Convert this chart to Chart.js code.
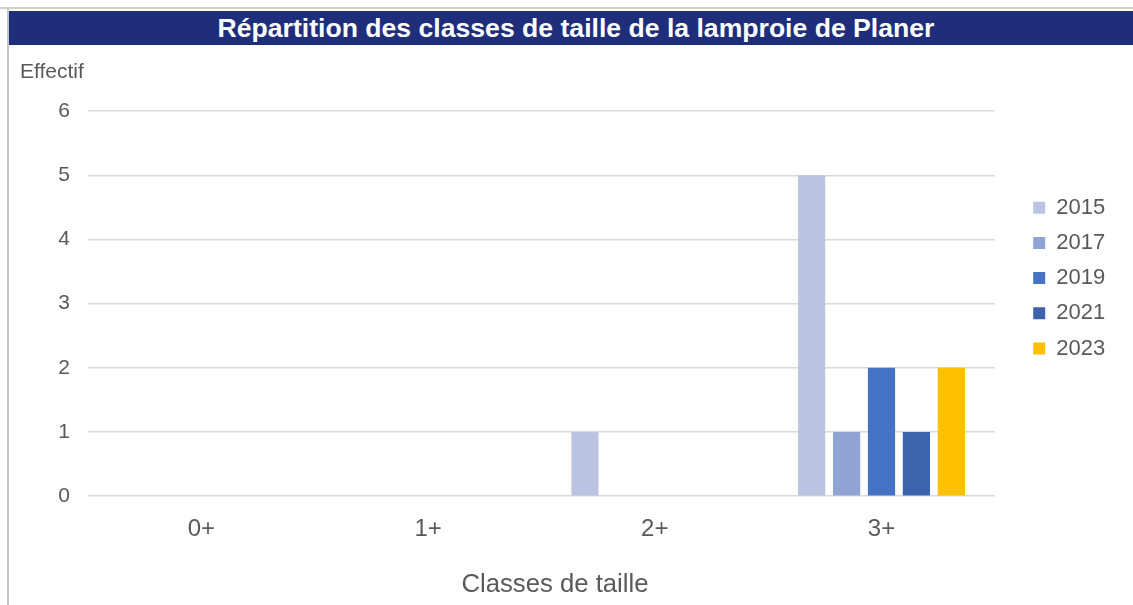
<!DOCTYPE html>
<html>
<head>
<meta charset="utf-8">
<script src="https://cdn.jsdelivr.net/npm/chart.js@4"></script>
<style>
  body { margin: 0; background: #fff; font-family: "Liberation Sans", Arial, sans-serif; }
  #topline { position: absolute; left: 0; top: 7px; width: 1133px; height: 2px; background: #d0d0d0; }
  #leftline { position: absolute; left: 7px; top: 7px; width: 2px; height: 598px; background: #c6c6c6; }
  #titlebar {
    position: absolute; left: 9px; top: 11px; width: 1114px; height: 34px; padding-left: 10px;
    background: #1f2e7a; color: #fff; text-align: center;
    font: bold 26.6px "Liberation Sans", Arial, sans-serif; line-height: 34px;
  }
  #wrap { position: absolute; left: 9px; top: 47px; width: 1124px; height: 558px; }
</style>
</head>
<body>
<div id="topline"></div>
<div id="leftline"></div>
<div id="titlebar">Répartition des classes de taille de la lamproie de Planer</div>
<div id="wrap"><canvas id="sizeChart"></canvas></div>
<script>
const categories = ["0+", "1+", "2+", "3+"];
const years = ["2015", "2017", "2019", "2021", "2023"];
const counts2015 = [0, 0, 1, 5];
const counts2017 = [0, 0, 0, 1];
const counts2019 = [0, 0, 0, 2];
const counts2021 = [0, 0, 0, 1];
const counts2023 = [0, 0, 0, 2];
const yTicks = [0, 1, 2, 3, 4, 5, 6];

const seriesValues = [counts2015, counts2017, counts2019, counts2021, counts2023];
const seriesColors = ["#b9c3e2", "#8fa3d4", "#4472c4", "#3b64ad", "#ffc000"];

// move the legend down next to the bars, like the excel layout
const legendPlacer = {
  id: "legendPlacer",
  afterLayout(chart) {
    const lg = chart.legend;
    const w = lg.right - lg.left;
    const h = lg.bottom - lg.top;
    lg.left = 1011;
    lg.right = lg.left + w;
    lg.top = 136.5;
    lg.bottom = lg.top + h;
  },
};

document.addEventListener("DOMContentLoaded", function () {
  const canvas = document.getElementById("sizeChart");
  canvas.width = 1124;
  canvas.height = 558;

  new Chart(canvas, {
    type: "bar",
    data: {
      labels: categories,
      datasets: years.map((year, i) => ({
        label: year,
        data: seriesValues[i],
        backgroundColor: seriesColors[i],
        borderWidth: 0,
        categoryPercentage: 0.77,
        barPercentage: 0.78,
      })),
    },
    plugins: [legendPlacer],
    options: {
      responsive: false,
      animation: false,
      layout: { padding: { left: 11, right: 43, top: 0, bottom: 0 } },
      plugins: {
        tooltip: { enabled: false },
        title: {
          display: true,
          text: "Effectif",
          align: "start",
          color: "#595959",
          font: { family: "Liberation Sans", size: 21, weight: "normal" },
          padding: { top: 13, bottom: 26 },
        },
        // x axis title, centred on the whole chart box like in excel
        subtitle: {
          display: true,
          position: "bottom",
          text: "Classes de taille",
          color: "#595959",
          font: { family: "Liberation Sans", size: 25.7, weight: "normal" },
          padding: { top: 0, bottom: 5 },
        },
        legend: {
          position: "right",
          align: "start",
          labels: {
            boxWidth: 12,
            boxHeight: 12,
            padding: 13.2,
            color: "#595959",
            font: { family: "Liberation Sans", size: 22 },
          },
        },
      },
      scales: {
        x: {
          grid: { display: false, drawTicks: false },
          border: { display: false },
          ticks: {
            color: "#595959",
            padding: 19,
            font: { family: "Liberation Sans", size: 24 },
          },
          afterFit(scale) {
            scale.height = 73;
          },
        },
        y: {
          min: 0,
          max: 6,
          grid: { color: "#d9d9d9", lineWidth: 1.5, drawTicks: false },
          border: { display: false },
          afterBuildTicks(scale) {
            scale.ticks = yTicks.map((v) => ({ value: v }));
          },
          ticks: {
            color: "#595959",
            padding: 18,
            font: { family: "Liberation Sans", size: 21 },
          },
          afterFit(scale) {
            scale.width = 68;
          },
        },
      },
    },
  });
});
</script>
</body>
</html>
